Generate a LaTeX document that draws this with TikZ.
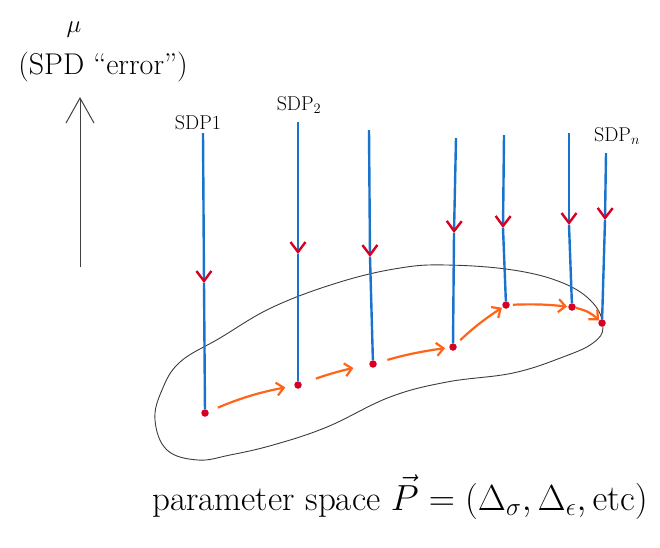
\documentclass[tikz,border=0pt]{standalone}
\usepackage{tikz}
\usetikzlibrary{positioning,arrows.meta}

\definecolor{sdpblue}{RGB}{25,115,205}
\definecolor{ptred}{RGB}{215,0,35}
\definecolor{steporange}{RGB}{255,100,25}
\definecolor{blobgray}{RGB}{60,60,60}

\begin{document}
\begin{tikzpicture}[
  x=1pt, y=-1pt,
  font=\fontsize{30}{34}\selectfont,
  sdp/.style={draw=sdpblue, line width=2.4pt},
  sdpin/.style={sdp, -{Straight Barb[color=ptred, length=10pt, width=15pt]}},
  pt/.style={circle, fill=ptred, inner sep=0pt, minimum size=7.5pt},
  move/.style={draw=steporange, line width=2.2pt, -{Straight Barb[length=7pt, width=13pt]}},
  axis/.style={draw=black!75, line width=1pt, -{Straight Barb[length=25pt, width=28pt]}},
  blob/.style={draw=blobgray, line width=0.9pt},
  sdplbl/.style={font=\fontsize{20}{24}\selectfont, inner sep=1pt},
]
\useasboundingbox (0,0) rectangle (660,547);

% error axis
\coordinate (ax0) at (80,267);
\coordinate (ax1) at (80,97);
\draw[axis] (ax0) -- (ax1);
\node (mu) at (74,30) {$\mu$};
\node (err) at (103,67) {(SPD ``error'')};

% parameter space
\draw[blob] plot[smooth cycle, tension=0.65] coordinates {
  (180,362) (220,338) (273,307) (340,282) (400,268) (447,265) (513,270)
  (563,283) (593,303) (603,327) (593,343) (563,357) (513,373) (447,382)
  (390,397) (327,427) (273,445) (230,455) (198,460) (167,450) (155,420)
  (162,390)};
\node[font=\fontsize{20}{24}\selectfont] (pspace) at (400,497)
  {\scalebox{1.75}{parameter space $\vec{P} = (\Delta_\sigma, \Delta_\epsilon, \mathrm{etc})$}};

% SDP runs
\coordinate (s1) at (203,133); \coordinate (m1) at (204,283); \node[pt] (p1) at (205,413) {};
\coordinate (s2) at (298,122); \coordinate (m2) at (298,254); \node[pt] (p2) at (298,385) {};
\coordinate (s3) at (369,130); \coordinate (m3) at (370,257); \node[pt] (p3) at (373,364) {};
\coordinate (s4) at (456,138); \coordinate (m4) at (454,233); \node[pt] (p4) at (453,347) {};
\coordinate (s5) at (504,135); \coordinate (m5) at (503,228); \node[pt] (p5) at (506,305) {};
\coordinate (s6) at (569,133); \coordinate (m6) at (569,225); \node[pt] (p6) at (572,307) {};
\coordinate (s7) at (606,153); \coordinate (m7) at (605,220); \node[pt] (p7) at (602,323) {};

\draw[sdpin] (s1) -- (m1); \draw[sdp] (m1) -- (p1);
\draw[sdpin] (s2) -- (m2); \draw[sdp] (m2) -- (p2);
\draw[sdpin] (s3) -- (m3); \draw[sdp] (m3) -- (p3);
\draw[sdpin] (s4) -- (m4); \draw[sdp] (m4) -- (p4);
\draw[sdpin] (s5) -- (m5); \draw[sdp] (m5) -- (p5);
\draw[sdpin] (s6) -- (m6); \draw[sdp] (m6) -- (p6);
\draw[sdpin] (s7) -- (m7); \draw[sdp] (m7) -- (p7);

\node[sdplbl, anchor=south] (l1) at (198,131) {SDP1};
\node[sdplbl, anchor=south] (l2) at (299,115) {SDP$_2$};
\node[sdplbl, anchor=south] (ln) at (617,146) {SDP$_n$};

% steps through parameter space
\draw[move, shorten <=10pt, shorten >=9pt] (p1) to[bend left=6] (p2);
\draw[move, shorten <=15pt, shorten >=16pt] (p2) to[bend left=4] (p3);
\draw[move, shorten <=11pt, shorten >=4pt] (p3) to[bend left=4] (p4);
\draw[move, shorten <=6pt, shorten >=1pt] (p4) to[bend left=5] (p5);
\draw[move, shorten <=3pt, shorten >=1pt] (p5) to[bend left=4] (p6);
\draw[move, shorten <=0pt, shorten >=0pt] (p6) to[bend left=15] (p7);
\end{tikzpicture}
\end{document}
